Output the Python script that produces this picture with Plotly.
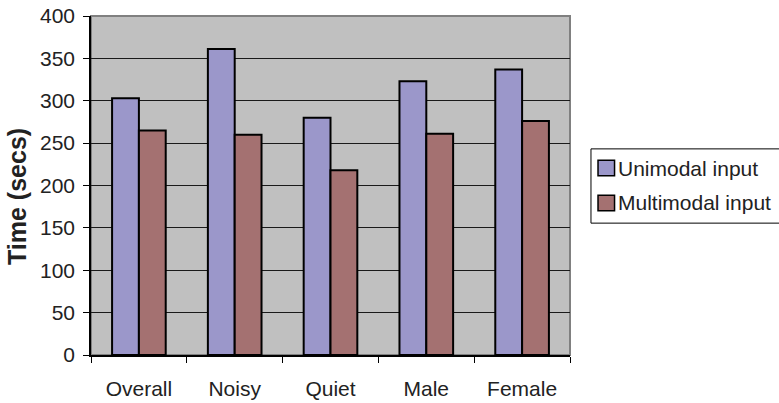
import plotly.graph_objects as go

categories = ["Overall", "Noisy", "Quiet", "Male", "Female"]
unimodal = [303, 361, 280, 323, 337]
multimodal = [265, 260, 218, 261, 276]
y_ticks = [0, 50, 100, 150, 200, 250, 300, 350, 400]

series = [
    ("Unimodal input", unimodal, "#9B97CA"),
    ("Multimodal input", multimodal, "#A47171"),
]

FONT = "Liberation Sans, Arial, sans-serif"
TEXT = "#222222"

fig = go.Figure()
for name, values, color in series:
    fig.add_trace(go.Bar(
        name=name, x=categories, y=values,
        marker=dict(color=color, line=dict(color="black", width=2)),
    ))

# Legend drawn as a boxed key to the right of the plot area (paper coords)
shapes = [
    dict(type="rect", xref="paper", yref="paper", x0=0, x1=1, y0=0, y1=1,
         line=dict(color="#808080", width=2), fillcolor="rgba(0,0,0,0)", layer="below"),
    dict(type="rect", xref="paper", yref="paper", x0=1.0438, x1=1.47, y0=0.389, y1=0.608,
         line=dict(color="black", width=1), fillcolor="white"),
]
annotations = [
    # y-axis title, sitting slightly below the axis midpoint
    dict(text="<b>Time (secs)</b>", xref="paper", yref="paper", x=-0.1545, y=0.469,
         xanchor="center", yanchor="middle", textangle=-90, showarrow=False,
         font=dict(family=FONT, size=25, color=TEXT)),
]
key_y = [0.5516, 0.4484]
for (name, _, color), yc in zip(series, key_y):
    shapes.append(dict(type="rect", xref="paper", yref="paper",
                       x0=1.0585, x1=1.093, y0=yc - 0.023, y1=yc + 0.023,
                       line=dict(color="black", width=1.5), fillcolor=color))
    annotations.append(dict(text=name, xref="paper", yref="paper", x=1.097, y=yc,
                            xanchor="left", yanchor="middle", showarrow=False,
                            font=dict(family=FONT, size=21, color=TEXT)))

fig.update_layout(
    width=779, height=403,
    margin=dict(l=91, r=209, t=16, b=48, autoexpand=False),
    paper_bgcolor="white",
    plot_bgcolor="#C0C0C0",
    barmode="group",
    bargap=0.44,
    bargroupgap=0,
    font=dict(family=FONT, size=21, color=TEXT),
    showlegend=False,
    shapes=shapes,
    annotations=annotations,
)

fig.update_yaxes(
    range=[0, 400], tickvals=y_ticks,
    showgrid=True, gridcolor="#1a1a1a", gridwidth=1,
    showline=True, linecolor="black", linewidth=1.5,
    ticks="outside", ticklen=6, tickcolor="black",
    zeroline=False, automargin=False,
    tickfont=dict(size=21),
    ticklabelstandoff=4,
)
fig.update_xaxes(
    showline=True, linecolor="black", linewidth=1.5,
    ticks="outside", ticklen=6, tickcolor="black", tickson="boundaries",
    showgrid=False, automargin=False,
    tickfont=dict(size=21),
    ticklabelstandoff=14,
)

fig.write_html("out.html")
